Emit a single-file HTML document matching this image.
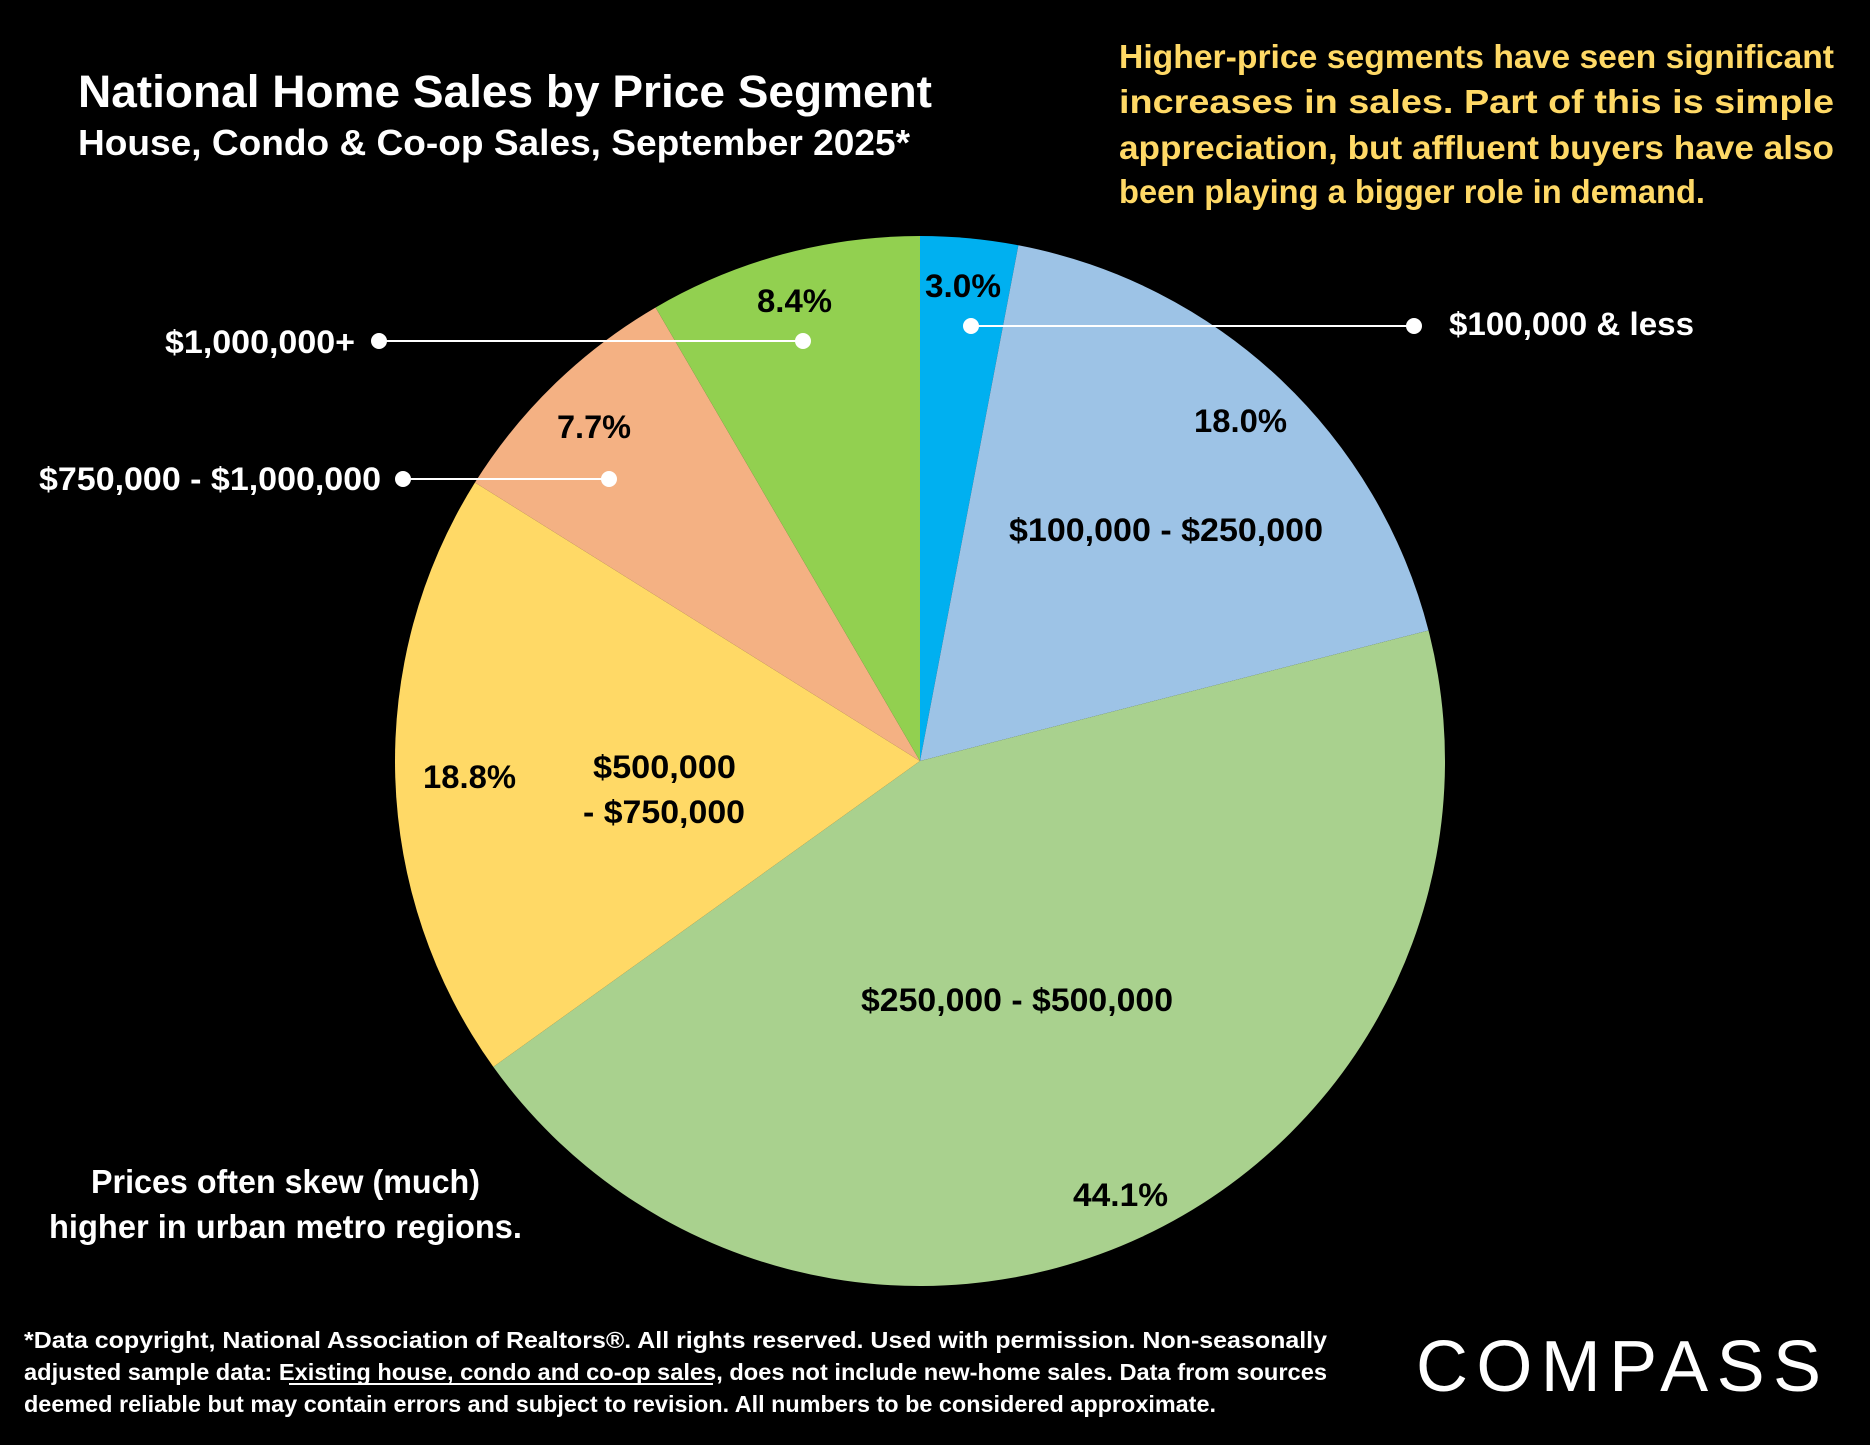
<!DOCTYPE html>
<html><head><meta charset="utf-8"><style>
html,body{margin:0;padding:0;background:#000;}
svg{display:block;}
text{font-family:"Liberation Sans",sans-serif;font-weight:bold;}
</style></head><body>
<svg id="chart" width="1870" height="1445" viewBox="0 0 1870 1445" xmlns="http://www.w3.org/2000/svg">
<rect width="1870" height="1445" fill="#000"/>
<text x="78" y="107" font-size="45" fill="#fff" textLength="854" lengthAdjust="spacingAndGlyphs">National Home Sales by Price Segment</text>
<text x="78" y="155" font-size="36" fill="#fff" textLength="832" lengthAdjust="spacingAndGlyphs">House, Condo &amp; Co-op Sales, September 2025*</text>
<g fill="#FFD966" font-size="33">
<text x="1119" y="68" textLength="715" lengthAdjust="spacingAndGlyphs">Higher-price segments have seen significant</text>
<text x="1119" y="113" textLength="715" lengthAdjust="spacingAndGlyphs">increases in sales. Part of this is simple</text>
<text x="1119" y="159" textLength="715" lengthAdjust="spacingAndGlyphs">appreciation, but affluent buyers have also</text>
<text x="1119" y="203" textLength="586" lengthAdjust="spacingAndGlyphs">been playing a bigger role in demand.</text>
</g>
<g id="slices"></g>
<g id="labels" font-size="32">
<text x="925" y="297" fill="#000" textLength="76" lengthAdjust="spacingAndGlyphs">3.0%</text>
<text x="1194" y="432" fill="#000" textLength="93" lengthAdjust="spacingAndGlyphs">18.0%</text>
<text x="1009" y="541" fill="#000" textLength="314" lengthAdjust="spacingAndGlyphs">$100,000 - $250,000</text>
<text x="861" y="1011" fill="#000" textLength="312" lengthAdjust="spacingAndGlyphs">$250,000 - $500,000</text>
<text x="1073" y="1206" fill="#000" textLength="95" lengthAdjust="spacingAndGlyphs">44.1%</text>
<text x="423" y="788" fill="#000" textLength="93" lengthAdjust="spacingAndGlyphs">18.8%</text>
<text x="593" y="778" fill="#000" textLength="143" lengthAdjust="spacingAndGlyphs">$500,000</text>
<text x="583" y="823" fill="#000" textLength="162" lengthAdjust="spacingAndGlyphs">- $750,000</text>
<text x="557" y="438" fill="#000" textLength="74" lengthAdjust="spacingAndGlyphs">7.7%</text>
<text x="757" y="312" fill="#000" textLength="75" lengthAdjust="spacingAndGlyphs">8.4%</text>
<text x="1449" y="335" fill="#fff" textLength="245" lengthAdjust="spacingAndGlyphs">$100,000 &amp; less</text>
<text x="39" y="490" fill="#fff" textLength="342" lengthAdjust="spacingAndGlyphs">$750,000 - $1,000,000</text>
<text x="165" y="353" fill="#fff" textLength="190" lengthAdjust="spacingAndGlyphs">$1,000,000+</text>
</g>
<g stroke="#fff" stroke-width="2" fill="#fff">
<line x1="971" y1="326" x2="1414" y2="326"/><circle cx="971" cy="326" r="7"/><circle cx="1414" cy="326" r="7"/>
<line x1="403" y1="479" x2="609" y2="479"/><circle cx="403" cy="479" r="7"/><circle cx="609" cy="479" r="7"/>
<line x1="379" y1="341" x2="803" y2="341"/><circle cx="379" cy="341" r="7"/><circle cx="803" cy="341" r="7"/>
</g>
<g fill="#fff" font-size="33">
<text x="91" y="1193" textLength="389" lengthAdjust="spacingAndGlyphs">Prices often skew (much)</text>
<text x="49" y="1238" textLength="473" lengthAdjust="spacingAndGlyphs">higher in urban metro regions.</text>
</g>
<g fill="#fff" font-size="23">
<text x="24" y="1348" textLength="1303" lengthAdjust="spacingAndGlyphs">*Data copyright, National Association of Realtors®. All rights reserved. Used with permission. Non-seasonally</text>
<text x="24" y="1380" textLength="1303" lengthAdjust="spacingAndGlyphs">adjusted sample data:  Existing house, condo and co-op sales, does not include new-home sales. Data from sources</text>
<line x1="289" y1="1384" x2="713" y2="1384" stroke="#fff" stroke-width="2"/>
<text x="24" y="1412" textLength="1192" lengthAdjust="spacingAndGlyphs">deemed reliable but may contain errors and subject to revision. All numbers to be considered approximate.</text>
</g>
<text x="1416" y="1391" font-size="72" fill="#fff" style="font-weight:normal" textLength="405" lengthAdjust="spacing">COMPASS</text>
</svg>
<script>
const categories = ["$100,000 & less","$100,000 - $250,000","$250,000 - $500,000","$500,000 - $750,000","$750,000 - $1,000,000","$1,000,000+"];
const shares = [3.0, 18.0, 44.1, 18.8, 7.7, 8.4];
const colors = ["#00B0F0","#9DC3E6","#A9D18E","#FFD966","#F4B183","#92D050"];
const cx = 920, cy = 761, r = 525;
const total = shares.reduce((a,b)=>a+b,0);
function angleOf(v){ return v/total*2*Math.PI; }
function pt(a){ return [cx + r*Math.sin(a), cy - r*Math.cos(a)]; }
const g = document.getElementById('slices');
let acc = 0;
shares.forEach((v,i)=>{
  const a0 = angleOf(acc), a1 = angleOf(acc+v); acc += v;
  const p0 = pt(a0), p1 = pt(a1);
  const large = (a1-a0) > Math.PI ? 1 : 0;
  const path = document.createElementNS('http://www.w3.org/2000/svg','path');
  path.setAttribute('d', `M${cx},${cy} L${p0[0]},${p0[1]} A${r},${r} 0 ${large} 1 ${p1[0]},${p1[1]} Z`);
  path.setAttribute('fill', colors[i]);
  
  
  g.appendChild(path);
});
</script>
</body></html>
